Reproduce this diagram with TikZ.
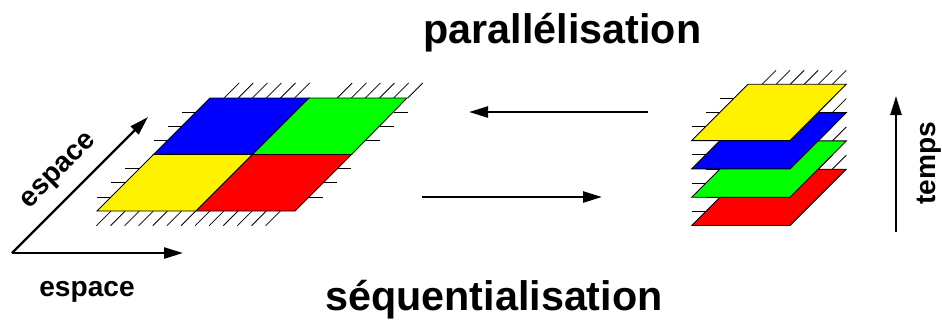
\documentclass[tikz,border=0pt]{standalone}
\usepackage{fontspec}
\setmainfont{Liberation Sans}
\usetikzlibrary{arrows.meta, positioning}

\begin{document}
\begin{tikzpicture}[
    x=0.2mm, y=-0.2mm,
    titre/.style={font=\fontsize{23.5}{28}\selectfont\bfseries, anchor=base},
    etiq/.style={font=\fontsize{16}{19}\selectfont\bfseries},
    fleche/.style={-{Triangle[length=3.8mm, width=2.2mm]}, line width=1.35pt},
    bord/.style={draw=black, line width=0.5pt},
    hach/.style={line width=0.45pt}
]
  \useasboundingbox (0,0) rectangle (942,323);

  % Titres
  \node[titre] (par) at (562.5, 43.3) {parallélisation};
  \node[titre] (seq) at (494, 310) {séquentialisation};

  % Axes espace x espace
  \coordinate (orig) at (12, 253);
  \coordinate (ex) at (183, 253);
  \coordinate (ey) at (148, 117);
  \draw[fleche] (orig) -- (ex);
  \draw[fleche] (orig) -- (ey);
  \node[etiq, anchor=base] (lx) at (87, 296) {espace};
  \node[etiq, rotate=45] (ly) at (60, 172) {espace};

  % Hachures du domaine espace
  \foreach \j in {1,...,6}
    \draw[hach] (210+\j*14.1, 98) -- ++(15, -15);
  \foreach \j in {2,...,7}
    \draw[hach] (309+\j*14.1, 98) -- ++(15, -15);
  \foreach \j in {1,...,13}
    \draw[hach] (97+\j*14.1, 211) -- ++(-14.7, 14.7);
  \foreach \k in {1,2,3,5,6,7} {
    \draw[hach] (97+\k*14.1, 211-\k*14.1) -- ++(-14, 0);
    \draw[hach] (295+\k*14.1, 211-\k*14.1) -- ++(14, 0);
  }

  % Sous-domaines
  \filldraw[bord, fill=yellow] (97,211) -- (196,211) -- (252.5,154.5) -- (153.5,154.5) -- cycle;
  \filldraw[bord, fill=red] (196,211) -- (295,211) -- (351.5,154.5) -- (252.5,154.5) -- cycle;
  \filldraw[bord, fill=blue] (153.5,154.5) -- (252.5,154.5) -- (309,98) -- (210,98) -- cycle;
  \filldraw[bord, fill=green] (252.5,154.5) -- (351.5,154.5) -- (407,98) -- (309,98) -- cycle;

  % Fleches centrales
  \coordinate (pa) at (648, 112);
  \coordinate (pb) at (469, 112);
  \coordinate (sa) at (422, 197);
  \coordinate (sb) at (602, 197);
  \draw[fleche] (pa) -- (pb);
  \draw[fleche] (sa) -- (sb);

  % Tranches de temps
  \foreach \c/\yb in {red/225.5, green/197.2, blue/168.9, yellow/140.6} {
    \foreach \k in {1,2,3}
      \draw[hach] (691.7+\k*14.1-14, \yb-\k*14.1) -- ++(14, 0);
    \foreach \j in {1,...,6}
      \draw[hach] (748+\j*14.05, \yb-56.3) -- ++(14, -14);
    \filldraw[bord, fill=\c] (691.7,\yb) -- (790,\yb) -- (846.3,\yb-56.3) -- (748,\yb-56.3) -- cycle;
  }

  % Axe temps
  \coordinate (t0) at (896, 232);
  \coordinate (t1) at (896, 96);
  \draw[fleche] (t0) -- (t1);
  \node[etiq, rotate=90] (lt) at (929, 163) {temps};
\end{tikzpicture}
\end{document}
